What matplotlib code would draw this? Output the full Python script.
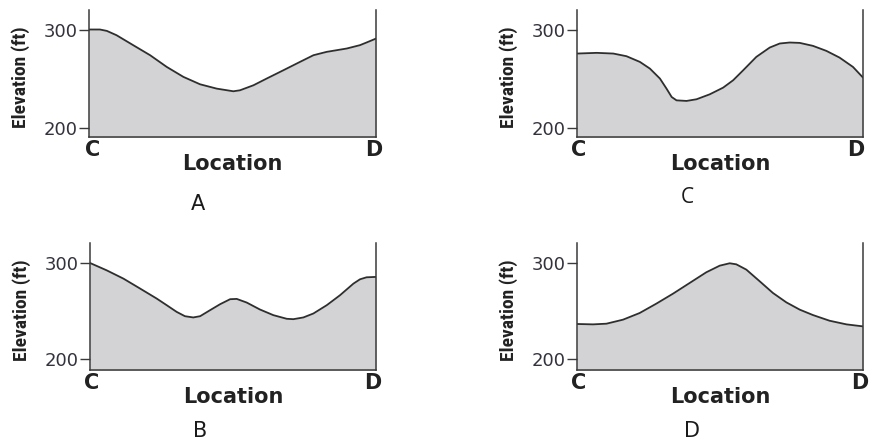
import matplotlib
matplotlib.use("Agg")
import matplotlib.pyplot as plt
from matplotlib import font_manager

# Elevation profiles from C to D (fraction of distance, elevation in ft)
x_a = [0, 0.038, 0.062, 0.096, 0.154, 0.213, 0.271, 0.329, 0.387, 0.445, 0.503,
       0.526, 0.573, 0.619, 0.677, 0.735, 0.782, 0.828, 0.898, 0.944, 0.967, 1.0]
elev_a = [300, 300, 298.6, 294.2, 284.1, 273.9, 262.0, 251.9, 244.4, 240.0, 237.3,
          238.3, 243.4, 250.2, 258.6, 267.1, 273.9, 277.3, 280.7, 284.1, 286.8, 290.8]

x_b = [0, 0.058, 0.117, 0.175, 0.233, 0.268, 0.303, 0.332, 0.361, 0.385, 0.420,
       0.455, 0.490, 0.513, 0.548, 0.594, 0.641, 0.688, 0.711, 0.746, 0.781, 0.828,
       0.874, 0.921, 0.944, 0.967, 1.0]
elev_b = [300, 292.4, 283.7, 273.4, 263.0, 256.1, 249.1, 244.6, 243.3, 244.6, 250.9,
          257.1, 262.3, 262.6, 258.8, 251.6, 245.7, 241.9, 241.5, 243.3, 247.4, 256.1,
          266.4, 278.5, 283.0, 285.1, 285.5]

x_c = [0, 0.069, 0.127, 0.173, 0.220, 0.255, 0.290, 0.313, 0.331, 0.348, 0.383,
       0.418, 0.464, 0.511, 0.546, 0.581, 0.627, 0.674, 0.709, 0.744, 0.779, 0.825,
       0.872, 0.918, 0.965, 1.0]
elev_c = [275.6, 276.3, 275.6, 272.9, 267.1, 260.3, 250.2, 240.0, 231.5, 228.1, 227.5,
          229.2, 234.2, 241.0, 248.5, 258.6, 272.2, 281.7, 285.8, 286.8, 286.4, 283.4,
          278.3, 271.5, 262.0, 251.2]

x_d = [0, 0.056, 0.103, 0.161, 0.219, 0.277, 0.336, 0.394, 0.452, 0.499, 0.534,
       0.557, 0.592, 0.639, 0.685, 0.732, 0.779, 0.825, 0.883, 0.942, 1.0]
elev_d = [236.5, 236.1, 236.8, 241.0, 247.9, 257.6, 268.1, 279.2, 290.3, 297.2, 299.7,
          298.6, 293.1, 280.9, 268.8, 259.0, 251.4, 245.8, 239.9, 236.1, 234.0]

y_ticks = [200, 300]
end_labels = ["C", "D"]
x_label = "Location"
y_label = "Elevation (ft)"

FILL = "#d3d3d5"
LINE = "#2e2e2e"
SPINE = "#3a3a3a"
TEXT = "#222222"


def has_font(name):
    try:
        font_manager.findfont(font_manager.FontProperties(family=name),
                              fallback_to_default=False)
        return True
    except ValueError:
        return False


# Narrow bold face for the rotated axis title, with fallbacks
ylab_family, ylab_size = "Liberation Sans", 12.5
for fam, size in (("Liberation Sans Narrow", 15), ("Roboto Condensed", 14), ("Open Sans Condensed", 14)):
    if has_font(fam):
        ylab_family, ylab_size = fam, size
        break

W, H = 869, 440
fig = plt.figure(figsize=(W / 100, H / 100), dpi=100)

# (name, x, y, rect in pixels [left, top, right, bottom], ylim, end-label x positions,
#  panel letter position, panel letter font)
panels = [
    ("A", x_a, elev_a, (89, 10, 376, 137), (190.9, 319.8), (0.014, 0.993), (198, 204), "DejaVu Sans"),
    ("C", x_c, elev_c, (577, 10, 863, 137), (190.9, 319.8), (0.007, 0.975), (687, 197), "Open Sans"),
    ("B", x_b, elev_b, (90, 243, 376, 370), (188.6, 320.8), (0.007, 0.988), (200, 431), "DejaVu Sans"),
    ("D", x_d, elev_d, (577, 243, 863, 370), (188.6, 320.8), (0.007, 0.988), (692, 431), "DejaVu Sans"),
]

for name, xs, ys, (l, t, r, b), ylim, end_x, (lx, ly), letter_font in panels:
    ax = fig.add_axes([l / W, 1 - b / H, (r - l) / W, (b - t) / H])
    ax.set_xlim(0, 1)
    ax.set_ylim(*ylim)
    ax.fill_between(xs, ys, ylim[0] - 10, color=FILL, linewidth=0, zorder=1)
    ax.plot(xs, ys, color=LINE, linewidth=1.3, solid_capstyle="round",
            solid_joinstyle="round", zorder=2)

    ax.spines["top"].set_visible(False)
    for s in ("left", "right", "bottom"):
        ax.spines[s].set_color(SPINE)
        ax.spines[s].set_linewidth(1.1)
        ax.spines[s].set_zorder(3)

    ax.set_xticks([])
    ax.set_yticks(y_ticks)
    ax.set_yticklabels([str(v) for v in y_ticks])
    ax.tick_params(axis="y", direction="out", length=7.5, width=1.0, color=SPINE,
                   pad=0.5, labelsize=13, labelcolor="#33333d")
    for lab in ax.get_yticklabels():
        lab.set_family("DejaVu Sans")

    ax.set_ylabel(y_label, family=ylab_family, fontweight="bold", fontsize=ylab_size,
                  color=TEXT, va="center")
    ax.yaxis.set_label_coords(-0.24, 0.47)

    for lbl, xp in zip(end_labels, end_x):
        ax.text(xp, -13 / (b - t), lbl, transform=ax.transAxes, ha="center", va="center",
                family="DejaVu Sans", fontweight="bold", fontsize=15, color=TEXT,
                clip_on=False)
    ax.text(0.5, -27 / (b - t), x_label, transform=ax.transAxes, ha="center", va="center",
            family="DejaVu Sans", fontweight="bold", fontsize=15, color=TEXT)

    fig.text(lx / W, 1 - ly / H, name, ha="center", va="center", family=letter_font,
             fontsize=15, color="#1a1a1a")

fig.savefig("out.png", dpi=100, facecolor="white")
